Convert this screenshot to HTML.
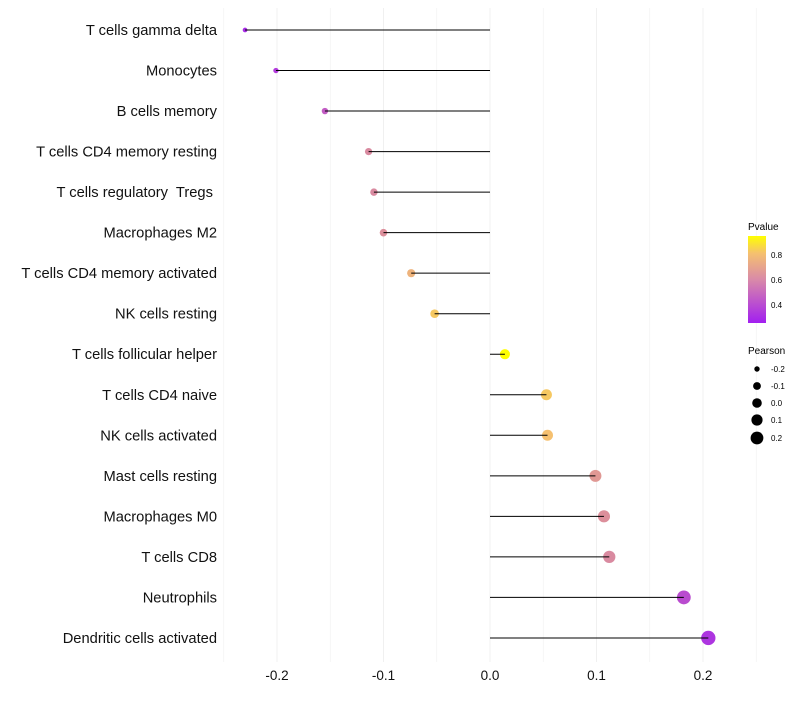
<!DOCTYPE html>
<html><head><meta charset="utf-8"><style>
body{margin:0;background:#fff;font-family:"Liberation Sans",sans-serif}
text{white-space:pre}
</style></head><body>
<svg id="chart" width="800" height="700" xmlns="http://www.w3.org/2000/svg">
<defs><linearGradient id="pg" x1="0" y1="1" x2="0" y2="0">
<stop offset="0" stop-color="#a21ff0"/><stop offset="0.5" stop-color="#d98aa8"/><stop offset="0.8" stop-color="#f5c070"/><stop offset="1" stop-color="#ffff00"/></linearGradient></defs>
<g id="grid"></g><g id="points"></g><g id="marks"></g><g id="labels"></g>
<g>
<text x="748" y="230" font-size="10">Pvalue</text>
<rect x="748" y="236" width="18" height="87" fill="url(#pg)"/>
<text x="771" y="258" font-size="8">0.8</text>
<text x="771" y="283" font-size="8">0.6</text>
<text x="771" y="308" font-size="8">0.4</text>
</g>
<g>
<text x="748" y="354" font-size="10">Pearson</text>
<circle cx="757" cy="369" r="2.7"/><text x="771" y="372" font-size="8">-0.2</text>
<circle cx="757" cy="386" r="3.9"/><text x="771" y="389" font-size="8">-0.1</text>
<circle cx="757" cy="403" r="4.8"/><text x="771" y="406" font-size="8">0.0</text>
<circle cx="757" cy="420" r="5.6"/><text x="771" y="423" font-size="8">0.1</text>
<circle cx="757" cy="438" r="6.4"/><text x="771" y="441" font-size="8">0.2</text>
</g>
</svg>
<script>
const categories=["T cells gamma delta","Monocytes","B cells memory","T cells CD4 memory resting","T cells regulatory  Tregs ","Macrophages M2","T cells CD4 memory activated","NK cells resting","T cells follicular helper","T cells CD4 naive","NK cells activated","Mast cells resting","Macrophages M0","T cells CD8","Neutrophils","Dendritic cells activated"];
const pearson=[-0.230,-0.201,-0.155,-0.114,-0.109,-0.100,-0.074,-0.052,0.014,0.053,0.054,0.099,0.107,0.112,0.182,0.205];
const pvalues=[0.30,0.35,0.45,0.60,0.60,0.62,0.75,0.82,0.95,0.82,0.80,0.65,0.62,0.60,0.40,0.33];
const xTicks=[-0.2,-0.1,0.0,0.1,0.2];
const xTickLabels=["-0.2","-0.1","0.0","0.1","0.2"];
const NS="http://www.w3.org/2000/svg";
const x=v=>490+v*1065;
const y=i=>30+i*40.53;
const rs=v=>Math.max(1.8,4.9+v*11);
function lerp(a,b,t){return a.map((c,k)=>Math.round(c+(b[k]-c)*t));}
function col(p){const stops=[[0.26,[162,31,240]],[0.6,[217,138,160]],[0.8,[245,192,112]],[0.95,[255,255,0]]];
 if(p<=stops[0][0])return 'rgb('+stops[0][1]+')';
 for(let i=1;i<stops.length;i++){if(p<=stops[i][0]){const t=(p-stops[i-1][0])/(stops[i][0]-stops[i-1][0]);return 'rgb('+lerp(stops[i-1][1],stops[i][1],t)+')';}}
 return 'rgb(255,255,0)';}
function mk(t,a,parent){const e=document.createElementNS(NS,t);for(const k in a)e.setAttribute(k,a[k]);parent.appendChild(e);return e;}
const grid=document.getElementById('grid'),marks=document.getElementById('marks'),points=document.getElementById('points'),labels=document.getElementById('labels');
for(let v=-0.25;v<=0.2501;v+=0.05){const g=mk('line',{x1:x(v),x2:x(v),y1:8,y2:662,stroke:'#f0f0f0','stroke-width':Math.abs(Math.round(v*100))%10===0?1:0.6},grid);

}
xTicks.forEach((v,i)=>{const t=mk('text',{x:x(v),y:680,'font-size':13.5,'text-anchor':'middle',fill:'#111'},labels);t.textContent=xTickLabels[i];

});
categories.forEach((c,i)=>{
 const t=mk('text',{x:217,y:y(i)+5,'font-size':14.7,'text-anchor':'end',fill:'#111'},labels);t.textContent=c;
 
 
 const ci=mk('circle',{cx:x(pearson[i]),cy:y(i),r:rs(pearson[i]),fill:col(pvalues[i])},points);
 
 
 const l=mk('line',{x1:x(0),x2:x(pearson[i]),y1:y(i),y2:y(i),stroke:'#000','stroke-width':1},marks);
 
 
});
</script>
</body></html>
